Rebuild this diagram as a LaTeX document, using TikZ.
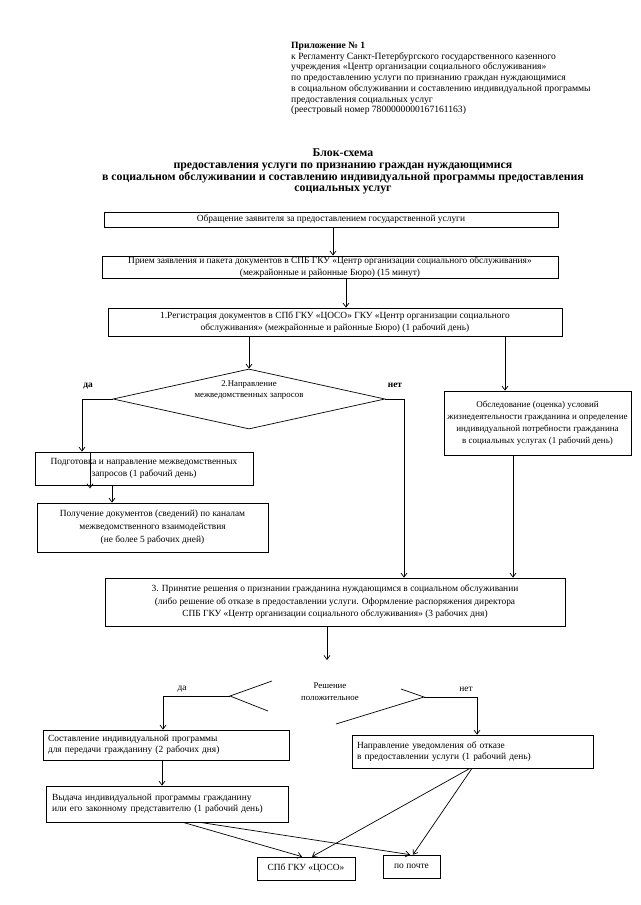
\documentclass[tikz,border=0pt]{standalone}
\usepackage{fontspec}
\setmainfont{Liberation Serif}
\usetikzlibrary{arrows.meta,shapes.geometric,calc}
\newcommand\hdrfont{\fontsize{9.6}{10.7}\selectfont}
\newcommand\ttlfont{\fontsize{11.8}{11.6}\selectfont\bfseries}
\newcommand\bxfont{\fontsize{9.4}{11.5}\selectfont}
\begin{document}
\begin{tikzpicture}[x=1pt,y=-1pt,
  box/.style={draw, line width=0.7pt, inner sep=1pt, align=center, font=\bxfont},
  lbox/.style={draw, line width=0.7pt, inner xsep=5pt, inner ysep=1pt, align=left, font=\bxfont},
  lbl/.style={inner sep=0pt, font=\bxfont},
  arr/.style={-{Straight Barb[length=4pt,width=6pt]}, line width=0.7pt},
  ln/.style={line width=0.7pt}]
\useasboundingbox (0,0) rectangle (640,905);
% column coordinates
\coordinate (k82) at (82,0);
\coordinate (k90) at (90,0);
\coordinate (k112) at (112,0);
\coordinate (k162) at (162,0);
\coordinate (k163) at (163,0);
\coordinate (k183) at (183,0);
\coordinate (k200) at (200,0);
\coordinate (k302) at (302,0);
\coordinate (k312) at (312,0);
\coordinate (k333) at (333,0);
\coordinate (k346) at (346,0);
\coordinate (k404) at (404,0);
\coordinate (k410) at (410,0);
\coordinate (k413) at (413,0);
\coordinate (k470) at (470,0);
\coordinate (k472) at (472,0);
\coordinate (k477) at (477,0);
\coordinate (k505) at (505,0);
\coordinate (k513) at (513,0);
% header
\node[anchor=north west, inner sep=0pt, align=left, font=\hdrfont] (h) at (291,42)
 {\textbf{Приложение № 1}\\
 к Регламенту Санкт-Петербургского государственного казенного\\
 учреждения «Центр организации социального обслуживания»\\
 по предоставлению услуги по признанию граждан нуждающимися\\
 в социальном обслуживании и составлению индивидуальной программы\\
 предоставления социальных услуг\\
 (реестровый номер 7800000000167161163)};
% title
\node[anchor=north, inner sep=0pt, align=center, font=\ttlfont] (t) at (343,149)
 {Блок-схема\\
 предоставления услуги по признанию граждан нуждающимися\\
 в социальном обслуживании и составлению индивидуальной программы предоставления\\
 социальных услуг};
% boxes
\node[box, minimum width=454pt, minimum height=15pt] (b1) at (331,219.5)
 {Обращение заявителя за предоставлением государственной услуги};
\node[box, minimum width=456pt, minimum height=22pt] (b2) at (330,267)
 {Прием заявления и пакета документов в СПБ ГКУ «Центр организации социального обслуживания»\\
 (межрайонные и районные Бюро) (15 минут)};
\node[box, minimum width=454pt, minimum height=28pt] (b3) at (335,322)
 {1.Регистрация документов в СПб ГКУ «ЦОСО» ГКУ «Центр организации социального\\
 обслуживания» (межрайонные и районные Бюро) (1 рабочий день)};
\node[diamond, draw, line width=0.7pt, inner sep=0pt, minimum width=272pt, minimum height=60pt] (d2) at (249,399) {};
\node[lbl, align=center, font=\fontsize{8.8}{11}\selectfont] (d2t) at (249,390)
 {2.Направление\\межведомственных запросов};
\node[lbl, font=\bxfont\bfseries] (da1) at (88,386) {да};
\node[lbl, font=\bxfont\bfseries] (net1) at (395,385) {нет};
\node[box, minimum width=187pt, minimum height=64pt, inner sep=0.5pt, font=\fontsize{9}{12}\selectfont] (ob) at (537.5,423)
 {Обследование (оценка) условий\\
 жизнедеятельности гражданина и определение\\
 индивидуальной потребности гражданина\\
 в социальных услугах (1 рабочий день)};
\node[box, minimum width=218pt, minimum height=33pt, font=\fontsize{9.4}{12.5}\selectfont] (p1) at (144,468.5)
 {Подготовка и направление межведомственных\\
 запросов (1 рабочий день)};
\node[box, minimum width=231pt, minimum height=49pt, font=\fontsize{9.4}{13}\selectfont] (p2) at (152.5,527.5)
 {Получение документов (сведений) по каналам\\
 межведомственного взаимодействия\\
 (не более 5 рабочих дней)};
\node[box, minimum width=460pt, minimum height=48pt, font=\fontsize{9.4}{12.5}\selectfont] (b4) at (335,602)
 {3. Принятие решения о признании гражданина нуждающимся в социальном обслуживании\\
 (либо решение об отказе в предоставлении услуги. Оформление распоряжения директора\\
 СПБ ГКУ «Центр организации социального обслуживания» (3 рабочих дня)};
% decision 2
\coordinate (dtop) at (327,660);
\coordinate (L) at (230,696);
\coordinate (L1) at (272,681);
\coordinate (L2) at (268,711);
\coordinate (R) at (424,697);
\coordinate (R1) at (401,689);
\coordinate (R2) at (336,724);
\node[lbl, align=center, font=\fontsize{8.8}{12}\selectfont] (dec) at (330,692) {Решение\\положительное};
\node[lbl] (da2) at (182,689) {да};
\node[lbl] (net2) at (466,689) {нет};
\node[lbox, text width=236pt, minimum height=30pt] (s1) at (166,745)
 {Составление индивидуальной программы\\
 для передачи гражданину (2 рабочих дня)};
\node[lbox, text width=231pt, minimum height=33pt] (n1) at (472.5,751.5)
 {Направление уведомления об отказе\\
 в предоставлении услуги (1 рабочий день)};
\node[lbox, text width=230pt, minimum height=36pt, inner xsep=6pt] (v1) at (167,804)
 {Выдача индивидуальной программы гражданину\\
 или его законному представителю (1 рабочий день)};
\node[box, minimum width=98pt, minimum height=23pt] (c1) at (306,868.5) {СПб ГКУ «ЦОСО»};
\node[box, minimum width=57pt, minimum height=23pt] (c2) at (411.5,866.5) {по почте};
% connectors
\draw[arr] (b1.south -| k333) -- (b2.north -| k333);
\draw[arr] (b2.south -| k346) -- (b3.north -| k346);
\draw[arr] (b3.south -| d2.north) -- (d2.north);
\draw[arr] (b3.south -| k505) -- (ob.north -| k505);
\draw[arr] (d2.west) -| (p1.north -| k82);
\draw[arr] (d2.east) -| (b4.north -| k404);
\draw[arr] (p1.north -| k90) -- ($(p1.south -| k90)+(0,3)$);
\draw[arr] (p1.south -| k112) -- (p2.north -| k112);
\draw[arr] (ob.south -| k513) -- (b4.north -| k513);
\draw[arr] (b4.south -| dtop) -- (dtop);
\draw[ln] (L1) -- (L) -- (L2);
\draw[ln] (R1) -- (R) -- (R2);
\draw[arr] (L) -| (s1.north -| k163);
\draw[arr] (R) -| (n1.north -| k477);
\draw[arr] (s1.south -| k162) -- (v1.north -| k162);
\draw[arr] (v1.south -| k183) -- (c1.north -| k302);
\draw[arr] (v1.south -| k200) -- (c2.north -| k410);
\draw[arr] (n1.south -| k470) -- (c1.north -| k312);
\draw[arr] (n1.south -| k472) -- (c2.north -| k413);
\end{tikzpicture}
\end{document}
